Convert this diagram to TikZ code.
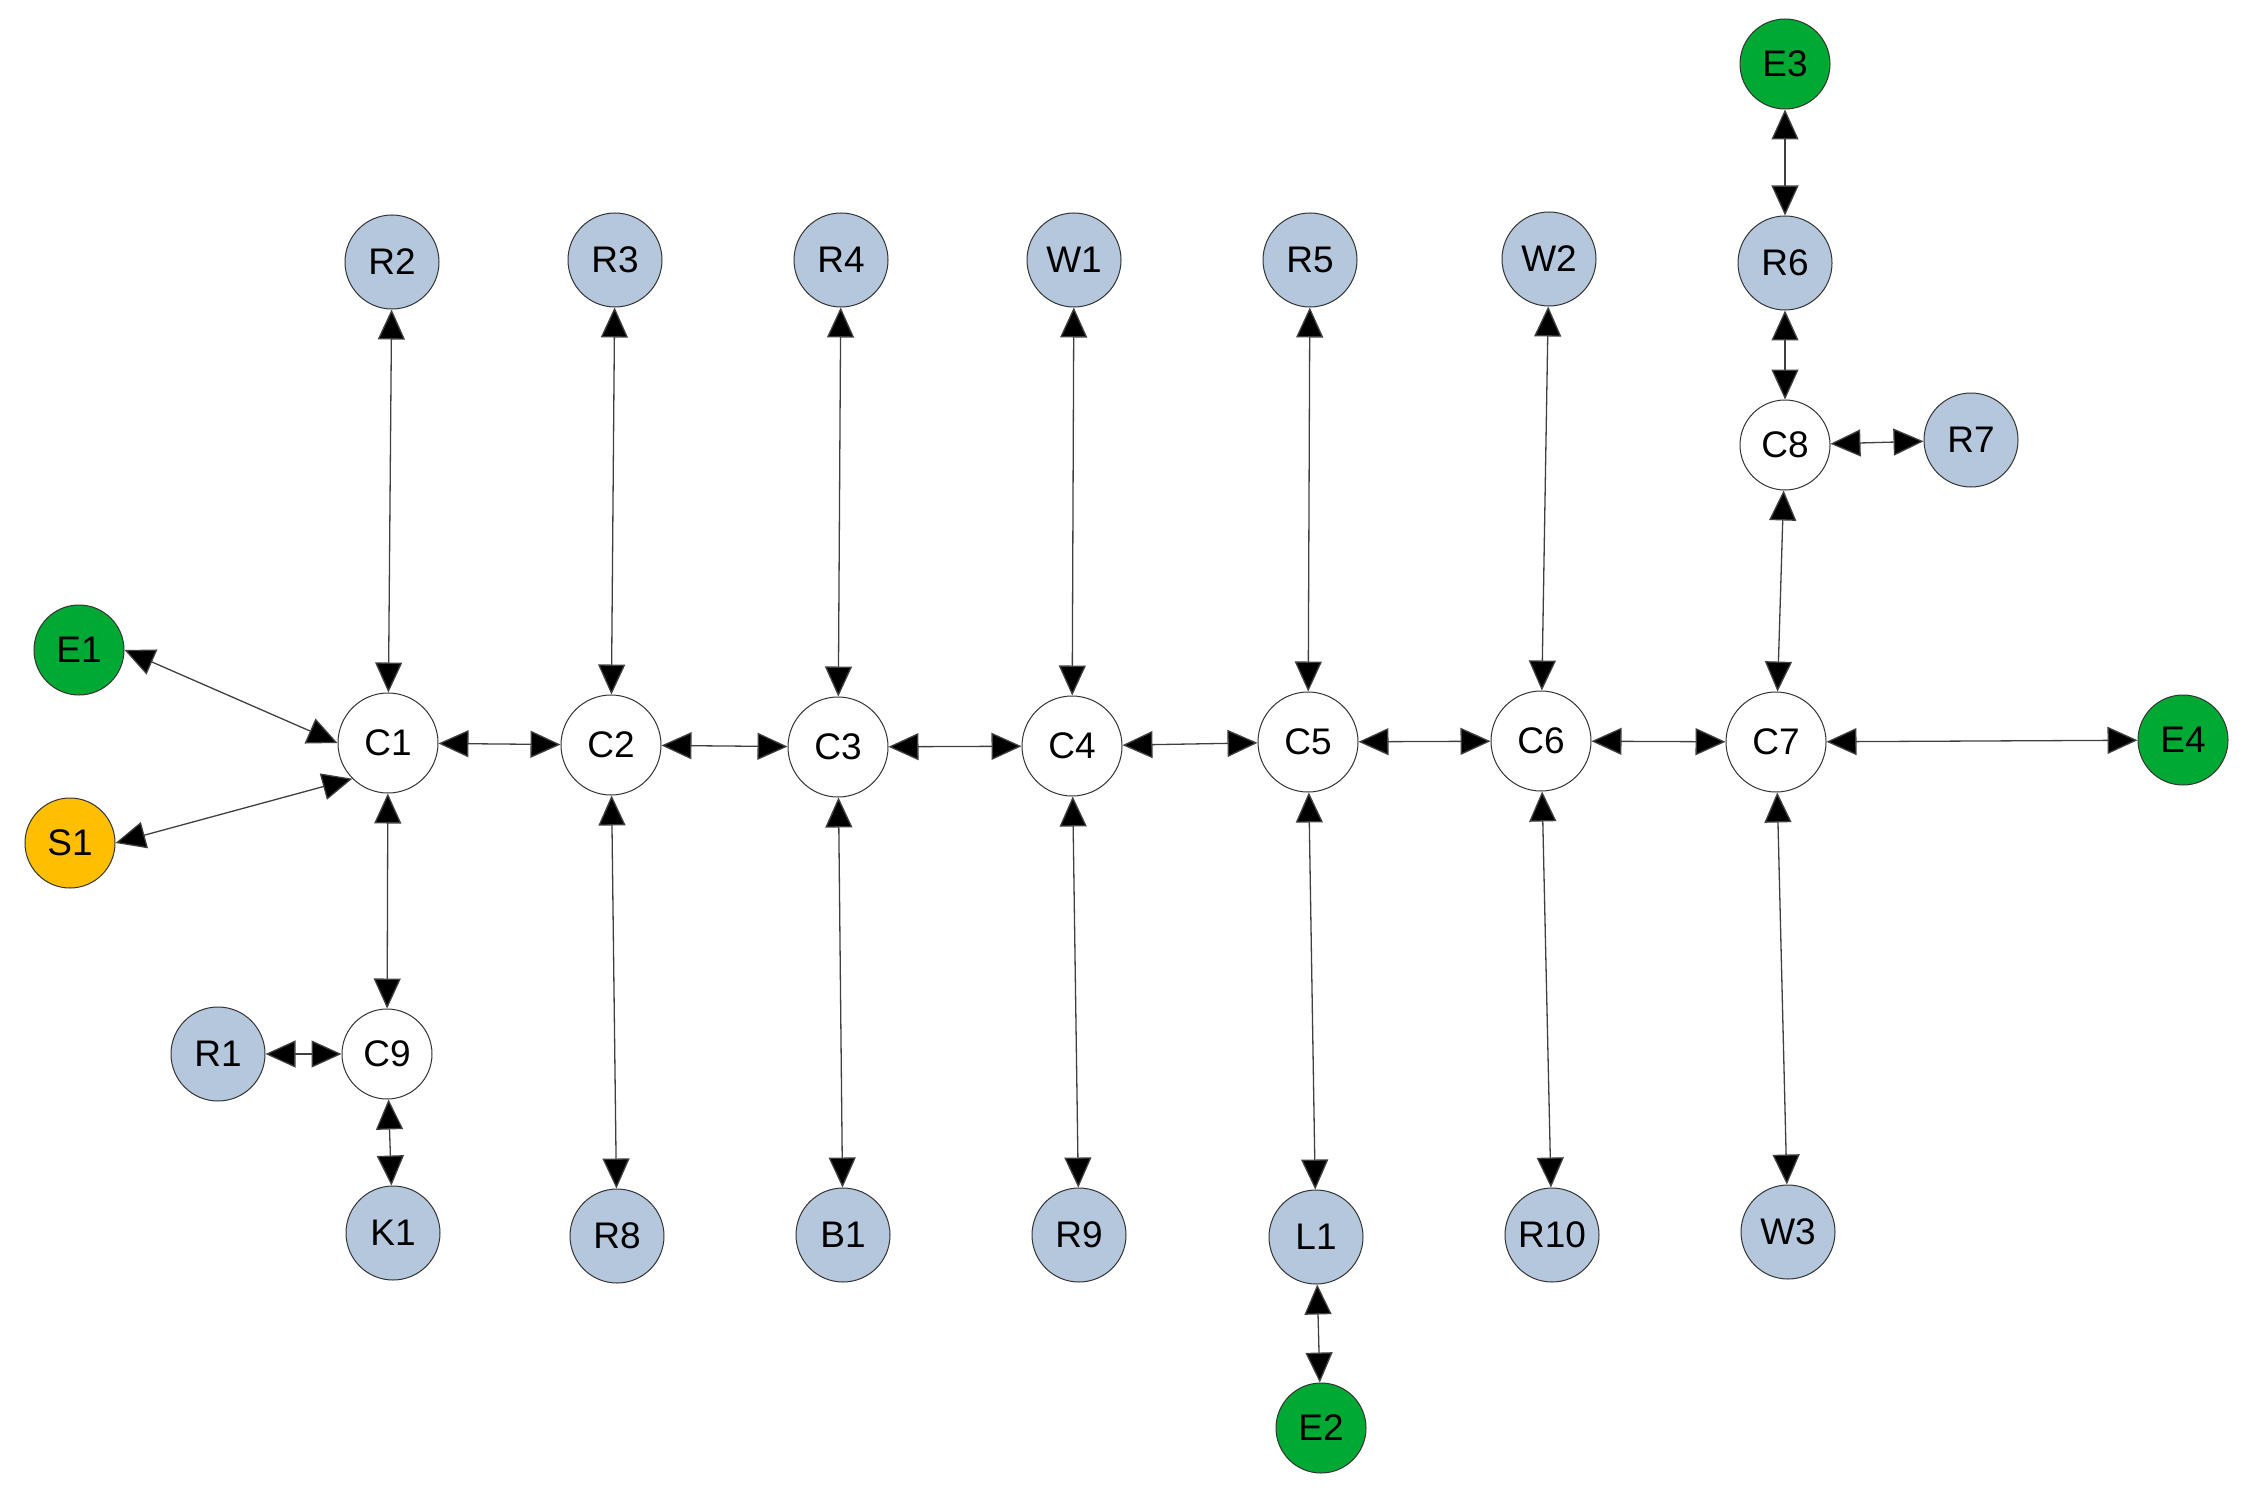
\documentclass[tikz,border=0pt]{standalone}
\usepackage{fontspec}
\setmainfont{Liberation Sans}
\usetikzlibrary{arrows.meta}
\definecolor{nblue}{HTML}{B4C7DC}
\definecolor{ngreen}{HTML}{00A933}
\definecolor{norange}{HTML}{FFBF00}
\tikzset{
  base/.style={circle,draw=black!80,line width=1pt,inner sep=0pt,font=\fontsize{37}{44}\selectfont},
  cnode/.style={base,fill=white,minimum size=100pt},
  csmall/.style={base,fill=white,minimum size=90pt},
  rnode/.style={base,fill=nblue,minimum size=94pt},
  gnode/.style={base,fill=ngreen,minimum size=90pt},
  onode/.style={base,fill=norange,minimum size=90pt},
  link/.style={draw=black!75,line width=1.3pt,{Triangle[length=30pt,width=27pt,fill=black]}-{Triangle[length=30pt,width=27pt,fill=black]}}
}
\begin{document}
\begin{tikzpicture}[x=1pt,y=-1pt]
\useasboundingbox (0,0) rectangle (2250,1495);
% top row
\node[gnode] (E3) at (1785,64) {E3};
\node[rnode] (R2) at (392,262) {R2};
\node[rnode] (R3) at (615,260) {R3};
\node[rnode] (R4) at (841,260) {R4};
\node[rnode] (W1) at (1074,260) {W1};
\node[rnode] (R5) at (1310,260) {R5};
\node[rnode] (W2) at (1549,259) {W2};
\node[rnode] (R6) at (1785,263) {R6};
\node[csmall] (C8) at (1785,445) {C8};
\node[rnode] (R7) at (1971,440) {R7};
% middle
\node[gnode] (E1) at (79,650) {E1};
\node[onode] (S1) at (70,843) {S1};
\node[cnode] (C1) at (388,743) {C1};
\node[cnode] (C2) at (611,745) {C2};
\node[cnode] (C3) at (838,747) {C3};
\node[cnode] (C4) at (1072,746) {C4};
\node[cnode] (C5) at (1308,742) {C5};
\node[cnode] (C6) at (1541,741) {C6};
\node[cnode] (C7) at (1776,742) {C7};
\node[gnode] (E4) at (2183,740) {E4};
% lower
\node[csmall] (C9) at (387,1054) {C9};
\node[rnode] (R1) at (218,1054) {R1};
\node[rnode] (K1) at (393,1233) {K1};
\node[rnode] (R8) at (617,1236) {R8};
\node[rnode] (B1) at (843,1235) {B1};
\node[rnode] (R9) at (1079,1235) {R9};
\node[rnode] (L1) at (1316,1237) {L1};
\node[rnode] (R10) at (1552,1235) {R10};
\node[rnode] (W3) at (1788,1232) {W3};
\node[gnode] (E2) at (1321,1428) {E2};
% connectors
\draw[link] (E1.east) -- (C1.west);
\draw[link] (S1.east) -- (C1.south west);
\draw[link] (C1) -- (C2);
\draw[link] (C2) -- (C3);
\draw[link] (C3) -- (C4);
\draw[link] (C4) -- (C5);
\draw[link] (C5) -- (C6);
\draw[link] (C6) -- (C7);
\draw[link] (C7) -- (E4);
\draw[link] (R2) -- (C1);
\draw[link] (R3) -- (C2);
\draw[link] (R4) -- (C3);
\draw[link] (W1) -- (C4);
\draw[link] (R5) -- (C5);
\draw[link] (W2) -- (C6);
\draw[link] (C8) -- (C7);
\draw[link] (R6) -- (C8);
\draw[link] (E3) -- (R6);
\draw[link] (C8) -- (R7);
\draw[link] (C1) -- (C9);
\draw[link] (R1) -- (C9);
\draw[link] (C9) -- (K1);
\draw[link] (C2) -- (R8);
\draw[link] (C3) -- (B1);
\draw[link] (C4) -- (R9);
\draw[link] (C5) -- (L1);
\draw[link] (L1) -- (E2);
\draw[link] (C6) -- (R10);
\draw[link] (C7) -- (W3);
\end{tikzpicture}
\end{document}
